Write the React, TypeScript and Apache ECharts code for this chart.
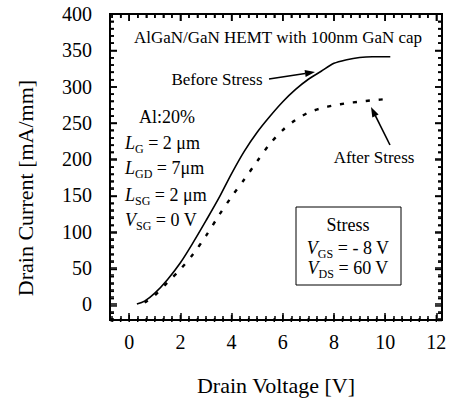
import React, { useEffect, useRef } from 'react';
import * as echarts from 'echarts';

const FONT = "'Liberation Serif', 'Times New Roman', serif";

// Drain voltage [V] / drain current [mA/mm]
const beforeVd = [0.3, 0.6, 1.0, 1.5, 2.0, 2.5, 3.0, 3.5, 4.0, 4.5, 5.0, 5.5, 6.0, 6.5, 7.0, 7.5, 8.0, 8.5, 9.0, 9.5, 10.2];
const beforeId = [0, 4, 15, 34, 57, 85, 115, 146, 180, 211, 237, 259, 279, 296, 310, 321, 332, 337, 340, 341, 341];
const afterVd = [0.6, 1.0, 1.5, 2.0, 2.5, 3.0, 3.5, 4.0, 4.5, 5.0, 5.5, 6.0, 6.5, 7.0, 7.5, 8.0, 8.5, 9.0, 9.5, 10.2];
const afterId = [2, 12, 30, 48, 69, 94, 122, 148, 172, 197, 221, 240, 254, 264, 270, 274, 277, 279, 281, 283];

const xTickLabels = [0, 2, 4, 6, 8, 10, 12];
const yTickLabels = [0, 50, 100, 150, 200, 250, 300, 350, 400];

const X_MIN = -0.75;
const X_MAX = 12.22;
const Y_MIN = -22;
const Y_MAX = 400;

const xMinor: number[] = [];
for (let k = -2; k <= 36; k++) xMinor.push(k / 3);
const yMinor: number[] = [];
for (let v = -20; v <= 400; v += 10) yMinor.push(v);

const W = 454, H = 401;
const GL = 110, GR = 12, GT = 14, GB = 79;
const PX_PER_X = (W - GL - GR) / (X_MAX - X_MIN);
const PX_PER_Y = (H - GT - GB) / (Y_MAX - Y_MIN);

const isMajor = (list: number[], v: number) => list.some((m) => Math.abs(m - v) < 1e-6);

// inward frame ticks as markLine segments in data coordinates
function tickMarkLines() {
  const out: any[] = [];
  xMinor.forEach((v) => {
    if (v <= X_MIN || v >= X_MAX) return;
    const d = (isMajor(xTickLabels, v) ? 7 : 4) / PX_PER_Y;
    out.push([{ coord: [v, Y_MIN] }, { coord: [v, Y_MIN + d] }]);
    out.push([{ coord: [v, Y_MAX] }, { coord: [v, Y_MAX - d] }]);
  });
  yMinor.forEach((v) => {
    if (v <= Y_MIN || v >= Y_MAX) return;
    const d = (isMajor(yTickLabels, v) ? 7 : 4) / PX_PER_X;
    out.push([{ coord: [X_MIN, v] }, { coord: [X_MIN + d, v] }]);
    out.push([{ coord: [X_MAX, v] }, { coord: [X_MAX - d, v] }]);
  });
  return out;
}

// the same ticks as graphic lines (linear value-axis mapping)
function tickLines() {
  const left = GL, right = W - GR, top = GT, bottom = H - GB;
  const xp = (v: number) => left + (v - X_MIN) * PX_PER_X;
  const yp = (v: number) => bottom - (v - Y_MIN) * PX_PER_Y;
  const out: any[] = [];
  const ln = (x1: number, y1: number, x2: number, y2: number) =>
    out.push({ type: 'line', z: 100, shape: { x1, y1, x2, y2 }, style: { stroke: '#000', lineWidth: 1.5 } });
  xMinor.forEach((v) => {
    if (v <= X_MIN || v >= X_MAX) return;
    const len = isMajor(xTickLabels, v) ? 7 : 4;
    const x = xp(v);
    ln(x, bottom, x, bottom - len);
    ln(x, top, x, top + len);
  });
  yMinor.forEach((v) => {
    if (v <= Y_MIN || v >= Y_MAX) return;
    const len = isMajor(yTickLabels, v) ? 7 : 4;
    const y = yp(v);
    ln(left, y, left + len, y);
    ln(right, y, right - len, y);
  });
  return out;
}

function arrow(x1: number, y1: number, x2: number, y2: number) {
  const dx = x2 - x1, dy = y2 - y1;
  const L = Math.sqrt(dx * dx + dy * dy);
  const ux = dx / L, uy = dy / L;
  const hl = 10, hw = 3.5;
  const bx = x2 - ux * hl, by = y2 - uy * hl;
  return [
    { type: 'line', shape: { x1, y1, x2: bx, y2: by }, style: { stroke: '#000', lineWidth: 1.6 } },
    {
      type: 'polygon',
      shape: { points: [[x2, y2], [bx - uy * hw, by + ux * hw], [bx + uy * hw, by - ux * hw]] },
      style: { fill: '#000' },
    },
  ];
}

function richText(x: number, y: number, text: string, align: string) {
  return {
    type: 'text', x, y,
    style: {
      text, align, verticalAlign: 'middle',
      fontSize: 18, fontFamily: FONT, fill: '#000', lineHeight: 24,
      rich: {
        i: { fontSize: 18, fontFamily: FONT, fontStyle: 'italic', lineHeight: 24, fill: '#000' },
        s: { fontSize: 12, fontFamily: FONT, verticalAlign: 'bottom', fill: '#000' },
        n: { fontSize: 18, fontFamily: FONT, lineHeight: 24, fill: '#000' },
      },
    },
  };
}

function plainText(x: number, y: number, text: string, size: number, align = 'center') {
  return {
    type: 'text', x, y,
    style: { text, align, verticalAlign: 'middle', fontSize: size, fontFamily: FONT, fill: '#000' },
  };
}

export default function App() {
  const ref = useRef<HTMLDivElement>(null);
  useEffect(() => {
    if (!ref.current) return;
    const chart = echarts.init(ref.current, null, { renderer: 'svg' });
    const before = beforeVd.map((v, i) => [v, beforeId[i]]);
    const after = afterVd.map((v, i) => [v, afterId[i]]);
    chart.setOption({
      animation: false,
      grid: { left: GL, right: GR, top: GT, bottom: GB, show: true, borderColor: '#000', borderWidth: 2 },
      xAxis: {
        type: 'value', min: X_MIN, max: X_MAX,
        name: 'Drain Voltage [V]', nameLocation: 'middle', nameGap: 54,
        nameTextStyle: { fontFamily: FONT, fontSize: 22, color: '#000' },
        axisLine: { show: false, onZero: false },
        axisTick: { show: false },
        axisLabel: { show: true, customValues: xTickLabels, fontFamily: FONT, fontSize: 20, color: '#000', margin: 12 },
        splitLine: { show: false },
      },
      yAxis: {
        type: 'value', min: Y_MIN, max: Y_MAX,
        axisLine: { show: false, onZero: false },
        axisTick: { show: false },
        axisLabel: { show: true, customValues: yTickLabels, fontFamily: FONT, fontSize: 20, color: '#000', margin: 18 },
        splitLine: { show: false },
      },
      series: [
        {
          name: 'Before Stress', type: 'line', data: before, showSymbol: false, symbol: 'none',
          smooth: 0.3, clip: false,
          lineStyle: { color: '#000', width: 1.6 },
          markLine: {
            silent: true, symbol: ['none', 'none'], animation: false,
            label: { show: false },
            lineStyle: { color: '#000', width: 1.5, type: 'solid' },
            emphasis: { disabled: true },
            data: tickMarkLines(),
          },
        },
        {
          name: 'After Stress', type: 'line', data: after, showSymbol: false, symbol: 'none',
          smooth: 0.3,
          lineStyle: { color: '#000', width: 2.4, type: [4, 9] },
        },
      ],
      graphic: {
        elements: [
          {
            type: 'text', x: 25, y: 188, rotation: Math.PI / 2,
            style: { text: 'Drain Current [mA/mm]', align: 'center', verticalAlign: 'middle', fontSize: 22, fontFamily: FONT, fill: '#000' },
          },
          plainText(278, 37, 'AlGaN/GaN HEMT with 100nm GaN cap', 17),
          plainText(217, 79, 'Before Stress', 17),
          plainText(374, 157, 'After Stress', 17),
          ...arrow(269, 79, 315, 72),
          ...arrow(390, 145, 371, 107),
          plainText(167, 117, 'Al:20%', 18),
          richText(125, 143, '{i|L}{s|G}{n| = 2 μm}', 'left'),
          richText(125, 168, '{i|L}{s|GD}{n| = 7μm}', 'left'),
          richText(125, 195, '{i|L}{s|SG}{n| = 2 μm}', 'left'),
          richText(125, 220, '{i|V}{s|SG}{n| = 0 V}', 'left'),
          {
            type: 'rect', shape: { x: 296, y: 207, width: 105, height: 78 },
            style: { fill: 'none', stroke: '#000', lineWidth: 1 },
          },
          plainText(348, 225, 'Stress', 18),
          richText(348, 248, '{i|V}{s|GS}{n| = - 8 V}', 'center'),
          richText(348, 268, '{i|V}{s|DS}{n| = 60 V}', 'center'),
          ...tickLines(),
        ],
      },
    });
    return () => chart.dispose();
  }, []);
  return <div ref={ref} style={{ position: 'absolute', left: 0, top: 0, width: 454, height: 401 }} />;
}
